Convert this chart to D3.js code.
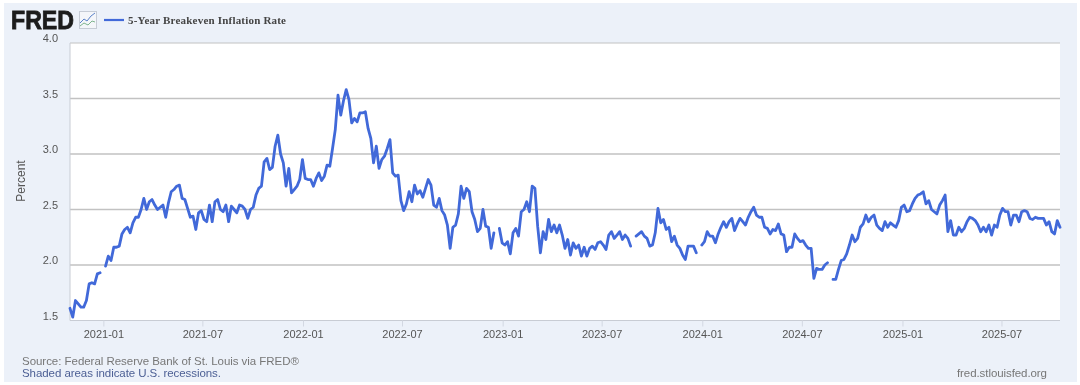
<!DOCTYPE html>
<html>
<head>
<meta charset="utf-8">
<title>5-Year Breakeven Inflation Rate</title>
<script src="https://cdn.jsdelivr.net/npm/d3@7"></script>
<style>
  html, body { margin: 0; padding: 0; background: #fff; }
  svg { display: block; filter: blur(0.35px); }
  text { font-family: "Liberation Sans", Arial, sans-serif; }
</style>
</head>
<body>
<div id="chart"></div>
<script>
// One reading every 5 days from 2020-11-01. null = gap in the line
const startDate = "2020-11-01";
const stepDays = 5;
const values = [
  1.61, 1.53, 1.68, 1.65, 1.62, 1.62, 1.68, 1.83, 1.84, 1.83, 1.92, 1.93,
  null, 1.99, 2.08, 2.04, 2.16, 2.16, 2.17, 2.28, 2.32, 2.34, 2.29, 2.38,
  2.43, 2.43, 2.50, 2.60, 2.50, 2.57, 2.59, 2.54, 2.50, 2.52, 2.54, 2.43,
  2.56, 2.66, 2.68, 2.71, 2.72, 2.60, 2.59, 2.51, 2.43, 2.44, 2.32, 2.47,
  2.49, 2.41, 2.39, 2.54, 2.39, 2.57, 2.59, 2.50, 2.48, 2.54, 2.39, 2.53,
  2.50, 2.47, 2.54, 2.53, 2.50, 2.42, 2.50, 2.52, 2.63, 2.69, 2.71, 2.93,
  2.96, 2.86, 2.88, 3.07, 3.17, 3.00, 2.92, 2.71, 2.87, 2.65, 2.68, 2.71,
  2.77, 2.95, 2.78, 2.77, 2.77, 2.71, 2.78, 2.83, 2.76, 2.80, 2.90, 2.89,
  3.05, 3.22, 3.53, 3.35, 3.48, 3.58, 3.49, 3.28, 3.32, 3.29, 3.37, 3.37,
  3.38, 3.23, 3.14, 2.92, 3.07, 2.87, 2.95, 2.98, 3.05, 3.13, 2.83, 2.80,
  2.81, 2.58, 2.49, 2.55, 2.66, 2.57, 2.72, 2.64, 2.67, 2.61, 2.69, 2.77,
  2.72, 2.54, 2.52, 2.60, 2.49, 2.45, 2.36, 2.15, 2.34, 2.36, 2.46, 2.71,
  2.60, 2.69, 2.66, 2.48, 2.41, 2.30, 2.33, 2.50, 2.35, 2.34, 2.15, 2.29,
  null, 2.33, 2.20, 2.18, 2.21, 2.10, 2.29, 2.33, 2.26, 2.48, 2.50, 2.57,
  2.48, 2.71, 2.69, 2.35, 2.11, 2.30, 2.23, 2.41, 2.30, 2.36, 2.29, 2.36,
  2.27, 2.15, 2.23, 2.09, 2.20, 2.15, 2.18, 2.08, 2.16, 2.08, 2.15, 2.17,
  2.14, 2.20, 2.21, 2.18, 2.14, 2.27, 2.30, 2.24, 2.27, 2.30, 2.23, 2.27,
  2.24, 2.17, null, 2.26, 2.28, 2.30, 2.26, 2.24, 2.17, 2.18, 2.29, 2.51,
  2.38, 2.41, 2.32, 2.34, 2.21, 2.26, 2.18, 2.15, 2.09, 2.05, 2.17, 2.17,
  2.17, 2.11, null, 2.18, 2.21, 2.30, 2.26, 2.26, 2.20, 2.28, 2.34, 2.39,
  2.34, 2.39, 2.42, 2.31, 2.37, 2.42, 2.39, 2.36, 2.43, 2.48, 2.52, 2.45,
  2.43, 2.43, 2.34, 2.33, 2.28, 2.32, 2.31, 2.37, 2.28, 2.27, 2.12, 2.16,
  2.16, 2.28, 2.24, 2.21, 2.22, 2.18, 2.15, 2.15, 1.88, 1.97, 1.96, 1.96,
  2.00, 2.02, null, 1.87, 1.87, 1.96, 2.04, 2.05, 2.10, 2.18, 2.27, 2.21,
  2.24, 2.34, 2.37, 2.45, 2.39, 2.43, 2.45, 2.36, 2.33, 2.31, 2.39, 2.34,
  2.38, 2.36, 2.34, 2.40, 2.52, 2.54, 2.48, 2.49, 2.55, 2.60, 2.63, 2.64,
  2.66, 2.55, 2.58, 2.50, 2.48, 2.46, 2.54, 2.58, 2.63, 2.30, 2.40, 2.27,
  2.27, 2.34, 2.30, 2.33, 2.39, 2.43, 2.42, 2.40, 2.36, 2.30, 2.34, 2.30,
  2.36, 2.27, 2.36, 2.34, 2.45, 2.51, 2.48, 2.48, 2.36, 2.45, 2.45, 2.39,
  2.48, 2.49, 2.48, 2.42, 2.41, 2.43, 2.42, 2.42, 2.42, 2.36, 2.39, 2.30,
  2.28, 2.40, 2.34
];
const yTicks = [1.5, 2.0, 2.5, 3.0, 3.5, 4.0];
const xTicks = ["2021-01", "2021-07", "2022-01", "2022-07", "2023-01", "2023-07",
  "2024-01", "2024-07", "2025-01", "2025-07"];

const seriesName = "5-Year Breakeven Inflation Rate";
const lineColor = "#4169d9";

const width = 1080, height = 385;
const plot = { left: 70, right: 1060, top: 43, bottom: 320.5 };

const parseDay = d3.utcParse("%Y-%m-%d");
const parseMonth = d3.utcParse("%Y-%m");
const start = parseDay(startDate);
const points = values.map((v, i) => ({ date: d3.utcDay.offset(start, i * stepDays), value: v }));

const x = d3.scaleUtc()
  .domain([start, points[points.length - 1].date])
  .range([plot.left, plot.right]);
const y = d3.scaleLinear()
  .domain([1.5, 4])
  .range([plot.bottom, plot.top]);

const svg = d3.select("#chart").append("svg")
  .attr("width", width)
  .attr("height", height);

// panel behind everything
svg.append("rect")
  .attr("x", 4).attr("y", 3)
  .attr("width", 1073).attr("height", 379)
  .attr("fill", "#ecf1f9");

svg.append("rect")
  .attr("x", plot.left).attr("y", plot.top)
  .attr("width", plot.right - plot.left).attr("height", plot.bottom - plot.top)
  .attr("fill", "#fff");

// horizontal grid
svg.append("g").selectAll("line")
  .data(yTicks.slice(1))
  .join("line")
  .attr("x1", plot.left).attr("x2", plot.right)
  .attr("y1", d => y(d)).attr("y2", d => y(d))
  .attr("stroke", "#c2c2c2")
  .attr("stroke-width", d => d === 4 ? 1 : 1.5);

svg.append("line")
  .attr("x1", plot.left).attr("x2", plot.left)
  .attr("y1", plot.top).attr("y2", plot.bottom)
  .attr("stroke", "#c8ccd4");

// y axis labels sit just above their grid lines
const yAxis = d3.axisLeft(y)
  .tickValues(yTicks)
  .tickFormat(d3.format(".1f"))
  .tickSize(0)
  .tickPadding(12);
const yG = svg.append("g")
  .attr("transform", `translate(${plot.left},0)`)
  .call(yAxis);
yG.select(".domain").remove();
yG.selectAll("text")
  .attr("dy", "-0.12em")
  .attr("font-size", 11)
  .attr("font-family", null)
  .attr("fill", "#555");

const xAxis = d3.axisBottom(x)
  .tickValues(xTicks.map(parseMonth))
  .tickFormat(d3.utcFormat("%Y-%m"))
  .tickSize(6)
  .tickPadding(4);
const xG = svg.append("g")
  .attr("transform", `translate(0,${plot.bottom})`)
  .call(xAxis);
xG.select(".domain")
  .attr("stroke", "#c8ccd4")
  .attr("d", `M${plot.left},0H${plot.right}`);
xG.selectAll("line").attr("stroke", "#d3d8e2");
xG.selectAll("text")
  .attr("font-size", 11)
  .attr("font-family", null)
  .attr("fill", "#555");

const line = d3.line()
  .defined(d => d.value !== null)
  .x(d => x(d.date))
  .y(d => y(d.value));

svg.append("path")
  .datum(points)
  .attr("fill", "none")
  .attr("stroke", lineColor)
  .attr("stroke-width", 2.8)
  .attr("stroke-linejoin", "round")
  .attr("stroke-linecap", "round")
  .attr("d", line);

svg.append("text")
  .attr("transform", "translate(25,181) rotate(-90)")
  .attr("text-anchor", "middle")
  .attr("font-size", 12)
  .attr("fill", "#555")
  .text("Percent");

// header: logo, little chart icon, legend
svg.append("text")
  .attr("x", 11).attr("y", 29)
  .attr("font-size", 25)
  .attr("font-weight", 700)
  .attr("textLength", 63)
  .attr("lengthAdjust", "spacingAndGlyphs")
  .attr("stroke", "#1c1c1c")
  .attr("stroke-width", 0.8)
  .attr("fill", "#1c1c1c")
  .text("FRED");

const icon = svg.append("g").attr("transform", "translate(79,11)");
icon.append("rect")
  .attr("x", 0.5).attr("y", 0.5).attr("width", 17).attr("height", 17)
  .attr("fill", "#f4f6fa").attr("stroke", "#c6ccd6");
icon.append("path")
  .attr("d", "M1,12L5,8L8,10L12,5L16,2")
  .attr("fill", "none").attr("stroke", "#5b82c9");
icon.append("path")
  .attr("d", "M1,15L5,12L9,14L13,10L16,11")
  .attr("fill", "none").attr("stroke", "#7fb58f");

svg.append("line")
  .attr("x1", 104).attr("x2", 124)
  .attr("y1", 20).attr("y2", 20)
  .attr("stroke", lineColor)
  .attr("stroke-width", 2.2);

svg.append("text")
  .attr("x", 128).attr("y", 24)
  .attr("font-size", 11)
  .attr("font-weight", 700)
  .attr("style", "font-family:'Liberation Serif',serif")
  .attr("textLength", 158)
  .attr("fill", "#444")
  .text(seriesName);

// footer
svg.append("text")
  .attr("x", 22).attr("y", 365)
  .attr("font-size", 11.5)
  .attr("textLength", 277)
  .attr("fill", "#777")
  .text("Source: Federal Reserve Bank of St. Louis via FRED®");
svg.append("text")
  .attr("x", 22).attr("y", 377)
  .attr("font-size", 11.5)
  .attr("textLength", 199)
  .attr("fill", "#4c5f94")
  .text("Shaded areas indicate U.S. recessions.");
svg.append("text")
  .attr("x", 957).attr("y", 377)
  .attr("font-size", 11.5)
  .attr("textLength", 90)
  .attr("fill", "#777")
  .text("fred.stlouisfed.org");
</script>
</body>
</html>
